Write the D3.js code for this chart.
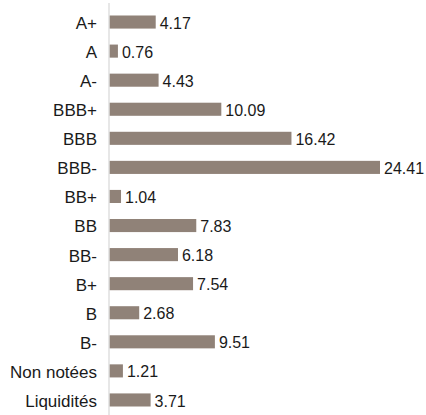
<!DOCTYPE html>
<html>
<head>
<meta charset="utf-8">
<script src="https://cdn.jsdelivr.net/npm/d3@7"></script>
<style>
  body { margin: 0; background: #fff; }
  text { font-family: "Liberation Sans", Arial, sans-serif; fill: #1a1a1a; }
</style>
</head>
<body>
<div id="chart"></div>
<script>
const categories = ['A+', 'A', 'A-', 'BBB+', 'BBB', 'BBB-', 'BB+', 'BB', 'BB-', 'B+', 'B', 'B-', 'Non notées', 'Liquidités'];
const values = [4.17, 0.76, 4.43, 10.09, 16.42, 24.41, 1.04, 7.83, 6.18, 7.54, 2.68, 9.51, 1.21, 3.71];

const width = 426, height = 415;
const barColor = '#908278';

const svg = d3.select('#chart').append('svg')
    .attr('width', width)
    .attr('height', height);

const x = d3.scaleLinear()
    .domain([0, 24.41])
    .range([109.5, 380]);

const y = d3.scaleBand()
    .domain(categories)
    .range([7.5, 414.5])
    .paddingInner(0.55)
    .paddingOuter(0.275);

const rows = categories.map((c, i) => ({cat: c, val: values[i]}));

// bars
svg.append('g').selectAll('rect')
    .data(rows)
    .enter()
    .append('rect')
    .attr('x', x(0))
    .attr('y', d => y(d.cat))
    .attr('width', d => x(d.val) - x(0))
    .attr('height', y.bandwidth())
    .attr('fill', barColor);

// vertical axis line
svg.append('line')
    .attr('x1', x(0) - 0.5).attr('x2', x(0) - 0.5)
    .attr('y1', 3).attr('y2', height)
    .attr('stroke', '#cfcfcf')
    .attr('stroke-width', 1);

// category labels
svg.append('g').selectAll('text')
    .data(rows)
    .enter()
    .append('text')
    .attr('x', 97)
    .attr('y', d => y(d.cat) + y.bandwidth() / 2 + 1)
    .attr('dy', '0.35em')
    .attr('text-anchor', 'end')
    .attr('font-size', 17)
    .text(d => d.cat);

// value labels
svg.append('g').selectAll('text')
    .data(rows)
    .enter()
    .append('text')
    .attr('x', d => x(d.val) + 4)
    .attr('y', d => y(d.cat) + y.bandwidth() / 2 + 1)
    .attr('dy', '0.35em')
    .attr('font-size', 16)
    .text(d => d.val.toFixed(2));
</script>
</body>
</html>
